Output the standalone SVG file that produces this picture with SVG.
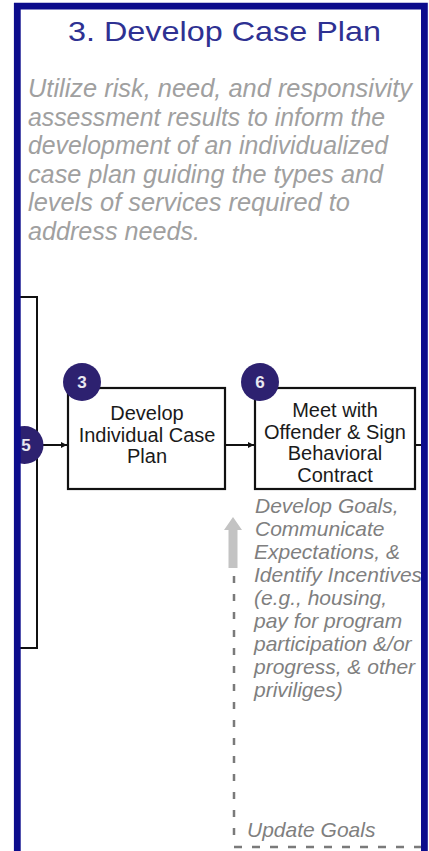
<svg xmlns="http://www.w3.org/2000/svg" width="429" height="851" viewBox="0 0 429 851">
  <defs>
    <marker id="tip" viewBox="0 0 6 6" refX="6" refY="3" markerWidth="3" markerHeight="3" orient="auto" markerUnits="strokeWidth">
      <path d="M0,0 L6,3 L0,6 Z" fill="#111"/>
    </marker>
    <clipPath id="inside">
      <rect x="17" y="0" width="412" height="851"/>
    </clipPath>
    <style>
      .title { font-family: "Liberation Sans", Arial, sans-serif; font-size: 28px; fill: #2e3192; }
      .sub { font-family: "Liberation Sans", Arial, sans-serif; font-size: 25px; font-style: italic; fill: #a0a0a0; }
      .note { font-family: "Liberation Sans", Arial, sans-serif; font-size: 21px; font-style: italic; fill: #7f7f7f; }
      .box { fill: #ffffff; stroke: #111111; stroke-width: 2.2; }
      .boxtxt { font-family: "Liberation Sans", Arial, sans-serif; font-size: 20px; fill: #1a1a1a; text-anchor: middle; }
      .badge { fill: #2d2170; }
      .num { font-family: "Liberation Sans", Arial, sans-serif; font-size: 17px; font-weight: bold; fill: #e8e8f0; text-anchor: middle; }
      .conn { fill: none; stroke: #111111; stroke-width: 2; }
      .dash { fill: none; stroke: #7a7a7a; stroke-width: 2.5; }
    </style>
  </defs>
  <rect x="0" y="0" width="429" height="851" fill="#ffffff"/>

  <g id="title">
    <text class="title" x="68" y="41" textLength="313" lengthAdjust="spacingAndGlyphs">3. Develop Case Plan</text>
  </g>

  <g id="description">
    <text class="sub" x="28" y="97" textLength="384" lengthAdjust="spacingAndGlyphs">Utilize risk, need, and responsivity</text>
    <text class="sub" x="28" y="125.6" textLength="357" lengthAdjust="spacingAndGlyphs">assessment results to inform the</text>
    <text class="sub" x="28" y="154.2" textLength="360" lengthAdjust="spacingAndGlyphs">development of an individualized</text>
    <text class="sub" x="28" y="182.8" textLength="355" lengthAdjust="spacingAndGlyphs">case plan guiding the types and</text>
    <text class="sub" x="28" y="211.4" textLength="322" lengthAdjust="spacingAndGlyphs">levels of services required to</text>
    <text class="sub" x="28" y="240" textLength="172" lengthAdjust="spacingAndGlyphs">address needs.</text>
  </g>

  <g id="connectors">
    <path class="conn" d="M20,297 H37 V648 H20"/>
    <path class="conn" d="M37,445 H67" marker-end="url(#tip)"/>
    <path class="conn" d="M225,445 H254" marker-end="url(#tip)"/>
    <path class="conn" d="M415,445 H422"/>
    <polygon points="233,517 242,530 237.5,530 237.5,568 228.5,568 228.5,530 224,530" fill="#c3c3c3"/>
    <path class="dash" d="M234,576 V846" stroke-dasharray="7 11"/>
    <path class="dash" d="M234,847 H421" stroke-dasharray="8 10"/>
  </g>

  <g id="node-5" clip-path="url(#inside)">
    <circle class="badge" cx="24.5" cy="445" r="19"/>
    <text class="num" x="26" y="451">5</text>
  </g>

  <g id="node-3">
    <rect class="box" x="68" y="388" width="157" height="101"/>
    <text class="boxtxt" x="147" y="420">Develop</text>
    <text class="boxtxt" x="147" y="441.5">Individual Case</text>
    <text class="boxtxt" x="147" y="463">Plan</text>
    <circle class="badge" cx="82" cy="382" r="19"/>
    <text class="num" x="82" y="388">3</text>
  </g>

  <g id="node-6">
    <rect class="box" x="255" y="388" width="160" height="101"/>
    <text class="boxtxt" x="335" y="417">Meet with</text>
    <text class="boxtxt" x="335" y="438.5">Offender &amp; Sign</text>
    <text class="boxtxt" x="335" y="460">Behavioral</text>
    <text class="boxtxt" x="335" y="481.5">Contract</text>
    <circle class="badge" cx="260" cy="382" r="19"/>
    <text class="num" x="260" y="388">6</text>
  </g>

  <g id="note-develop-goals">
    <text class="note" x="255" y="513">Develop Goals,</text>
    <text class="note" x="255" y="536">Communicate</text>
    <text class="note" x="254" y="559">Expectations, &amp;</text>
    <text class="note" x="254" y="582">Identify Incentives</text>
    <text class="note" x="254" y="605">(e.g., housing,</text>
    <text class="note" x="254" y="628">pay for program</text>
    <text class="note" x="254" y="651">participation &amp;/or</text>
    <text class="note" x="254" y="674">progress, &amp; other</text>
    <text class="note" x="254" y="697">priviliges)</text>
  </g>

  <g id="note-update-goals">
    <text class="note" x="247" y="837">Update Goals</text>
  </g>

  <g id="frame">
    <path d="M17.3,860 V6.2 H424.4 V860" fill="none" stroke="#0c0c8c" stroke-width="6.8"/>
  </g>
</svg>
